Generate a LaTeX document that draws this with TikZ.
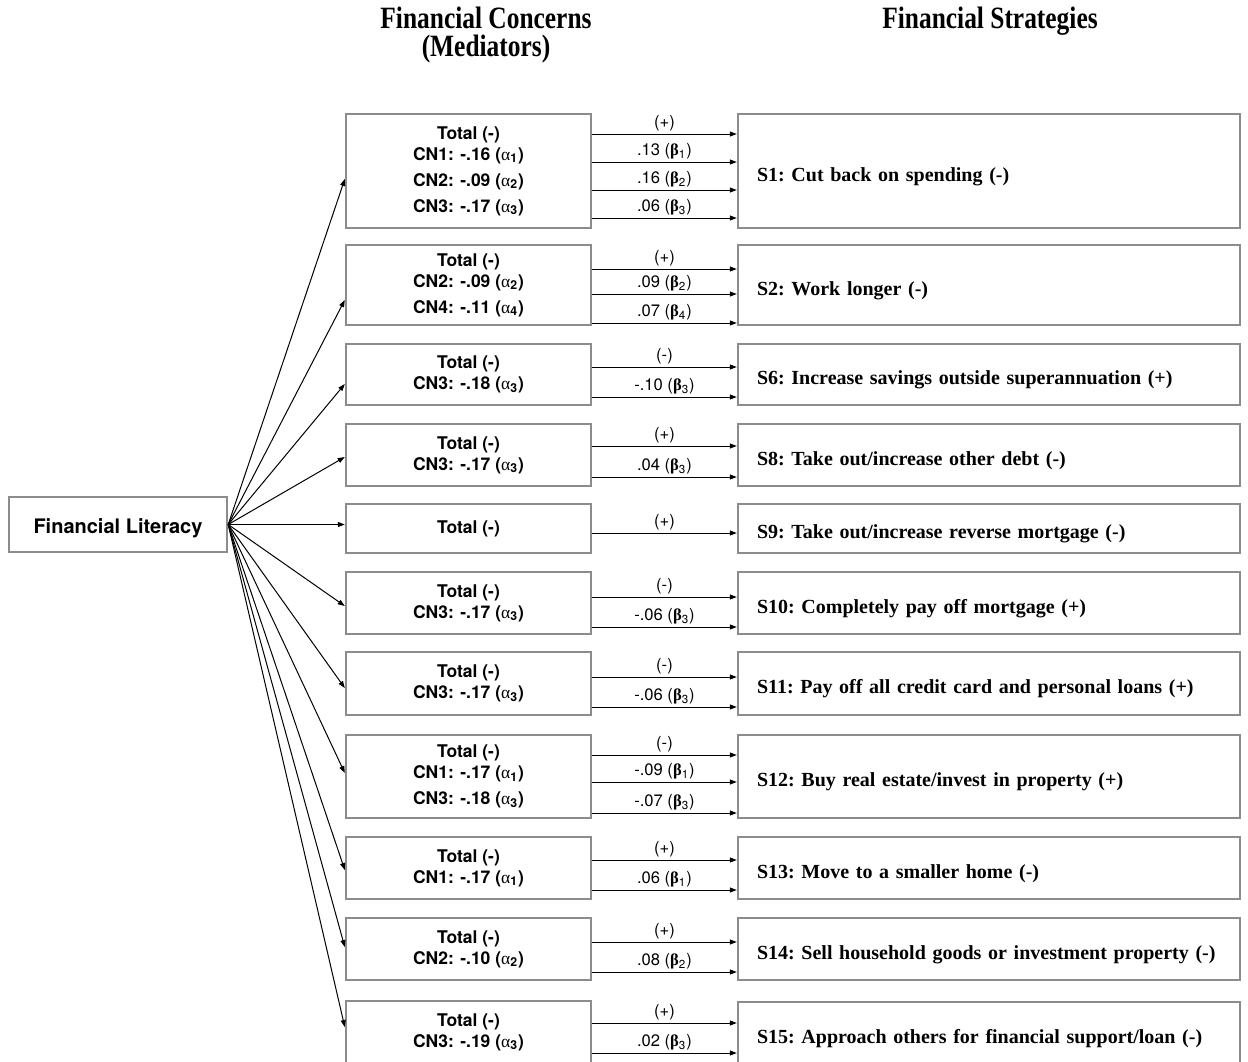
\documentclass[tikz,border=0pt]{standalone}
\usepackage{fontspec}
\setmainfont{Liberation Serif}
\setsansfont{TeX Gyre Heros}
\newfontfamily\headfont[FakeStretch=0.82]{Liberation Serif}
\usetikzlibrary{arrows.meta, positioning}
\newcommand{\alp}[1]{{\rmfamily\mdseries α}\textsubscript{#1}}
\newcommand{\bet}[1]{{\rmfamily\bfseries β}\textsubscript{#1}}

\begin{document}
\begin{tikzpicture}[x=0.5pt, y=-0.5pt, font=\sffamily,
    box/.style={draw=black!45, line width=1.2pt},
    med/.style={box, minimum width=122.5pt, inner sep=0pt, align=center, font=\sffamily\bfseries\fontsize{8.75}{10.5}\selectfont},
    strat/.style={box, text width=232pt, inner xsep=9.5pt, inner ysep=0pt, text height=10pt, text depth=0pt, align=left,
        execute at begin node=\frenchspacing, font=\rmfamily\bfseries\fontsize{10}{12}\selectfont},
    head/.style={align=center, font=\headfont\bfseries\fontsize{15.5}{14}\selectfont},
    arr/.style={-{Triangle[length=3.5pt, width=2.5pt]}, line width=0.5pt},
    lab/.style={midway, above, inner sep=1pt, font=\sffamily\fontsize{8.3}{10}\selectfont}]
    \useasboundingbox (0,0) rectangle (1248,1061);

    % column headings
    \node[head] (hmed)   at (486,35) {Financial Concerns\\(Mediators)};
    \node[head] (hstrat) at (990,21) {Financial Strategies};

    \node[box, minimum width=109pt, minimum height=27.5pt, text height=9pt, text depth=0pt, font=\sffamily\bfseries\fontsize{10}{12}\selectfont] (fl) at (118,524.5) {Financial Literacy};

    % mediators
    \node[med, minimum height=57pt]   (m1)  at (468.5,171)    {Total (-)\\CN1: -.16 (\alp{1})\\[2.5pt]CN2: -.09 (\alp{2})\\[2.5pt]CN3: -.17 (\alp{3})};
    \node[med, minimum height=40pt]   (m2)  at (468.5,285)    {Total (-)\\CN2: -.09 (\alp{2})\\[2.5pt]CN4: -.11 (\alp{4})};
    \node[med, minimum height=30.5pt] (m3)  at (468.5,374.5)  {Total (-)\\CN3: -.18 (\alp{3})};
    \node[med, minimum height=31pt]   (m4)  at (468.5,455)    {Total (-)\\CN3: -.17 (\alp{3})};
    \node[med, minimum height=24.5pt] (m5)  at (468.5,528.5)  {Total (-)};
    \node[med, minimum height=31pt]   (m6)  at (468.5,603)    {Total (-)\\CN3: -.17 (\alp{3})};
    \node[med, minimum height=31.5pt] (m7)  at (468.5,683.5)  {Total (-)\\CN3: -.17 (\alp{3})};
    \node[med, minimum height=41.5pt] (m8)  at (468.5,776.5)  {Total (-)\\CN1: -.17 (\alp{1})\\[2.5pt]CN3: -.18 (\alp{3})};
    \node[med, minimum height=31pt]   (m9)  at (468.5,868)    {Total (-)\\CN1: -.17 (\alp{1})};
    \node[med, minimum height=31pt]   (m10) at (468.5,949)    {Total (-)\\CN2: -.10 (\alp{2})};
    \node[med, minimum height=31pt]   (m11) at (468.5,1032)   {Total (-)\\CN3: -.19 (\alp{3})};

    % strategies
    \node[strat, minimum height=57pt]   (s1)  at (989,171)    {S1: Cut back on spending (-)};
    \node[strat, minimum height=40pt]   (s2)  at (989,285)    {S2: Work longer (-)};
    \node[strat, minimum height=30.5pt] (s3)  at (989,374.5)  {S6: Increase savings outside superannuation (+)};
    \node[strat, minimum height=31pt]   (s4)  at (989,455)    {S8: Take out/increase other debt (-)};
    \node[strat, minimum height=24.5pt] (s5)  at (989,528.5)  {S9: Take out/increase reverse mortgage (-)};
    \node[strat, minimum height=31pt]   (s6)  at (989,603)    {S10: Completely pay off mortgage (+)};
    \node[strat, minimum height=31.5pt] (s7)  at (989,683.5)  {S11: Pay off all credit card and personal loans (+)};
    \node[strat, minimum height=41.5pt] (s8)  at (989,776.5)  {S12: Buy real estate/invest in property (+)};
    \node[strat, minimum height=31pt]   (s9)  at (989,868)    {S13: Move to a smaller home (-)};
    \node[strat, minimum height=31pt]   (s10) at (989,949)    {S14: Sell household goods or investment property (-)};
    \node[strat, minimum height=31pt]   (s11) at (989,1033)   {S15: Approach others for financial support/loan (-)};

    % literacy -> mediators
    \foreach \i/\yy in {1/179, 2/300, 3/384, 4/457, 5/524.5, 6/606, 7/688, 8/773, 9/870, 10/947, 11/1027}
        \draw[arr] (fl.east) -- (m\i.west |- 0,\yy);

    % mediators -> strategies
    \foreach \i/\yy/\txt in {1/134/{(+)}, 1/162/{.13 (\bet{1})}, 1/190/{.16 (\bet{2})}, 1/218/{.06 (\bet{3})},
        2/269/{(+)}, 2/294/{.09 (\bet{2})}, 2/323/{.07 (\bet{4})},
        3/367/{(-)}, 3/397/{-.10 (\bet{3})},
        4/446/{(+)}, 4/477/{.04 (\bet{3})},
        5/533/{(+)},
        6/597/{(-)}, 6/627/{-.06 (\bet{3})},
        7/677/{(-)}, 7/707/{-.06 (\bet{3})},
        8/755/{(-)}, 8/782/{-.09 (\bet{1})}, 8/813/{-.07 (\bet{3})},
        9/860/{(+)}, 9/890/{.06 (\bet{1})},
        10/942/{(+)}, 10/972/{.08 (\bet{2})},
        11/1023/{(+)}, 11/1053/{.02 (\bet{3})}}
        \draw[arr] (m\i.east |- 0,\yy) -- (s\i.west |- 0,\yy) node[lab] {\txt};
\end{tikzpicture}
\end{document}
